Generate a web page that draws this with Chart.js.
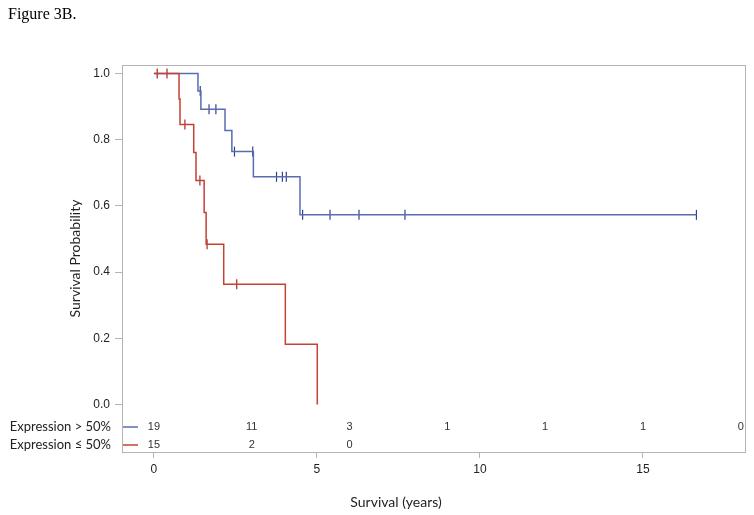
<!DOCTYPE html>
<html>
<head>
<meta charset="utf-8">
<script src="https://cdn.jsdelivr.net/npm/chart.js@4"></script>
<style>
    html, body { margin: 0; padding: 0; background: #fff; }
    #wrap { position: relative; width: 754px; height: 515px; }
    #fig { position: absolute; left: 8px; top: 5px; font-family: "Liberation Serif", serif; font-size: 16px; color: #000; }
</style>
</head>
<body>
<div id="wrap">
    <canvas id="km" width="754" height="515"></canvas>
    <div id="fig">Figure 3B.</div>
</div>
<script>
// Kaplan-Meier steps, Expression > 50%
const highTimes = [0, 1.35, 1.44, 2.18, 2.39, 3.05, 4.48, 16.64];
const highSurv  = [1, 0.947, 0.892, 0.828, 0.764, 0.688, 0.573, 0.573];
const highCensorTimes = [1.42, 1.69, 1.90, 2.47, 3.03, 3.76, 3.94, 4.06, 4.56, 5.40, 6.29, 7.70, 16.64];
const highCensorSurv  = [0.947, 0.892, 0.892, 0.764, 0.764, 0.688, 0.688, 0.688, 0.573, 0.573, 0.573, 0.573, 0.573];

// Expression <= 50%
const lowTimes = [0, 0.77, 0.80, 1.22, 1.29, 1.54, 1.60, 2.14, 4.03, 5.01];
const lowSurv  = [1, 0.923, 0.846, 0.761, 0.677, 0.580, 0.484, 0.363, 0.182, 0];
const lowCensorTimes = [0.10, 0.40, 0.95, 1.41, 1.63, 2.54];
const lowCensorSurv  = [1, 1, 0.846, 0.677, 0.484, 0.363];

// numbers at risk
const riskTimes = [0, 3, 6, 9, 12, 15, 18];
const riskHigh = [19, 11, 3, 1, 1, 1, 0];
const riskLow = [15, 2, 0];
const groupLabels = ['Expression > 50%', 'Expression \u2264 50%'];

const xTicks = [0, 5, 10, 15];
const yTicks = [0, 0.2, 0.4, 0.6, 0.8, 1.0];

const blue = 'rgb(88,108,178)';
const blueMark = 'rgb(52,64,140)';
const red = 'rgb(196,66,52)';
const redMark = 'rgb(168,40,36)';
const frameGray = '#b4b4b4';

function pts(xs, ys) {
    return xs.map((x, i) => ({ x: x, y: ys[i] }));
}

const extras = {
    id: 'extras',
    afterDraw(chart) {
        const ctx = chart.ctx;
        const a = chart.chartArea;
        const xs = chart.scales.x;
        ctx.save();
        // frame
        ctx.strokeStyle = frameGray;
        ctx.lineWidth = 1;
        ctx.strokeRect(a.left + 0.5, a.top + 0.5, a.right - a.left, a.bottom - a.top);

        // at-risk table
        const rowY = [a.bottom - 25, a.bottom - 7];
        ctx.textBaseline = 'middle';
        ctx.font = '13px Lato';
        ctx.fillStyle = '#222';
        ctx.textAlign = 'right';
        groupLabels.forEach((t, i) => ctx.fillText(t, 111, rowY[i]));
        ctx.lineWidth = 1.5;
        [blue, red].forEach((c, i) => {
            ctx.strokeStyle = c;
            ctx.beginPath();
            ctx.moveTo(a.left + 1, rowY[i]);
            ctx.lineTo(a.left + 16, rowY[i]);
            ctx.stroke();
        });
        ctx.font = '11px "Liberation Sans"';
        ctx.fillStyle = '#333';
        ctx.textAlign = 'center';
        riskHigh.forEach((n, i) => ctx.fillText(String(n), xs.getPixelForValue(riskTimes[i]), rowY[0]));
        riskLow.forEach((n, i) => ctx.fillText(String(n), xs.getPixelForValue(riskTimes[i]), rowY[1]));

        // axis titles
        ctx.font = '14px Lato';
        ctx.fillStyle = '#222';
        ctx.fillText('Survival (years)', 396, 502);
        ctx.translate(75, (a.top + a.bottom) / 2);
        ctx.rotate(-Math.PI / 2);
        ctx.fillText('Survival Probability', 0, 0);
        ctx.restore();
    }
};

new Chart(document.getElementById('km'), {
    type: 'line',
    data: {
        datasets: [
            {
                data: pts(lowTimes, lowSurv),
                borderColor: red,
                borderWidth: 1.5,
                stepped: 'before',
                pointRadius: 0,
                fill: false
            },
            {
                data: pts(lowCensorTimes, lowCensorSurv),
                showLine: false,
                pointStyle: 'line',
                rotation: 90,
                pointRadius: 5,
                borderColor: redMark,
                borderWidth: 1.2
            },
            {
                data: pts(highTimes, highSurv),
                borderColor: blue,
                borderWidth: 1.5,
                stepped: 'before',
                pointRadius: 0,
                fill: false
            },
            {
                data: pts(highCensorTimes, highCensorSurv),
                showLine: false,
                pointStyle: 'line',
                rotation: 90,
                pointRadius: 5,
                borderColor: blueMark,
                borderWidth: 1.2
            }
        ]
    },
    options: {
        responsive: false,
        animation: false,
        layout: { padding: { top: 65, right: 9, bottom: 0, left: 0 } },
        plugins: {
            legend: { display: false },
            tooltip: { enabled: false }
        },
        scales: {
            x: {
                type: 'linear',
                min: -0.98,
                max: 18.13,
                afterFit: s => { s.height = 63; },
                afterBuildTicks: s => { s.ticks = xTicks.map(v => ({ value: v })); },
                border: { display: false },
                grid: { drawOnChartArea: false, drawTicks: true, tickLength: 6, color: frameGray },
                ticks: { font: { family: 'Liberation Sans', size: 12 }, color: '#222', padding: 4 }
            },
            y: {
                type: 'linear',
                min: -0.1435,
                max: 1.0257,
                afterFit: s => { s.width = 122; },
                afterBuildTicks: s => { s.ticks = yTicks.map(v => ({ value: v })); },
                border: { display: false },
                grid: { drawOnChartArea: false, drawTicks: true, tickLength: 7, color: frameGray },
                ticks: {
                    font: { family: 'Liberation Sans', size: 12 },
                    color: '#222',
                    padding: 5,
                    callback: v => Number(v).toFixed(1)
                }
            }
        }
    },
    plugins: [extras]
});
</script>
</body>
</html>
